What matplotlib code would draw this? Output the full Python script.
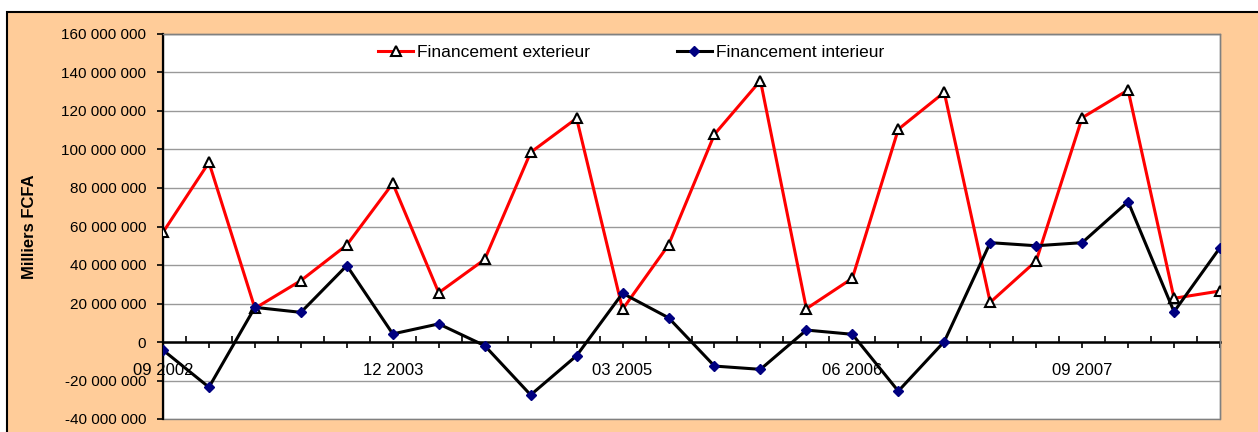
import numpy as np
import matplotlib.pyplot as plt
from matplotlib.patches import Rectangle
from matplotlib.ticker import FuncFormatter, FixedLocator

plt.rcParams['font.family'] = ['Liberation Sans', 'DejaVu Sans']

# quarterly data, 09 2002 -> 06 2008 (milliers FCFA)
quarters = ["09 2002", "12 2002", "03 2003", "06 2003", "09 2003", "12 2003",
            "03 2004", "06 2004", "09 2004", "12 2004", "03 2005", "06 2005",
            "09 2005", "12 2005", "03 2006", "06 2006", "09 2006", "12 2006",
            "03 2007", "06 2007", "09 2007", "12 2007", "03 2008", "06 2008"]
fin_exterieur = np.array([57.0, 93.3, 17.5, 31.9, 50.4, 82.4, 25.6, 42.9, 98.5, 116.2,
                          17.0, 50.4, 107.9, 135.8, 17.3, 33.1, 110.5, 129.7, 20.6, 42.1,
                          116.5, 130.9, 22.7, 26.5]) * 1e6
fin_interieur = np.array([-4.2, -23.5, 18.0, 15.4, 39.7, 4.2, 9.4, -1.9, -27.5, -7.1,
                          25.3, 12.6, -12.5, -14.2, 6.2, 4.0, -25.5, 0.2, 51.6, 50.0,
                          51.6, 72.9, 15.7, 49.0]) * 1e6
shown_labels = ["09 2002", "12 2003", "03 2005", "06 2006", "09 2007"]

W, H = 1258, 432
fig = plt.figure(figsize=(W / 100, H / 100), dpi=100)
fig.patch.set_facecolor('white')

# orange chart area with black frame
fig.add_artist(Rectangle((7 / W, -0.05), 1.1, (H - 12) / H + 0.05, transform=fig.transFigure,
                         facecolor='#FFCC99', edgecolor='black', linewidth=1.5, zorder=0))

ax = fig.add_axes([163 / W, (H - 419) / H, 1057 / W, 385 / H])
ax.set_facecolor('white')
ax.patch.set_edgecolor('#808080')
ax.patch.set_linewidth(1.0)

x = np.arange(len(quarters))
ax.plot(x, fin_exterieur, color='red', lw=2.2, marker='^', ms=7.5,
        mfc='white', mec='black', mew=1.5, label='Financement exterieur', zorder=3)
ax.plot(x, fin_interieur, color='black', lw=2.2, marker='D', ms=5.5,
        mfc='#000080', mec='#000080', label='Financement interieur', zorder=4)

ax.set_xlim(0, len(quarters) - 1)
ax.set_ylim(-40e6, 160e6)
ax.set_yticks(np.arange(-40e6, 160e6 + 1, 20e6))
ax.yaxis.set_major_formatter(FuncFormatter(lambda v, p: f"{int(round(v)):,}".replace(",", " ")))
ax.grid(axis='y', color='#999999', lw=1.0, zorder=0)
ax.set_axisbelow(True)

for s in ['top', 'right']:
    ax.spines[s].set_color('#808080')
    ax.spines[s].set_linewidth(1.0)
ax.spines['left'].set_color('black')
ax.spines['left'].set_linewidth(1.6)
ax.spines['bottom'].set_position(('data', 0))
ax.spines['bottom'].set_color('black')
ax.spines['bottom'].set_linewidth(1.8)
ax.spines['bottom'].set_zorder(2)

ax.xaxis.set_major_locator(FixedLocator(x))
ax.set_xticklabels([q if q in shown_labels else "" for q in quarters])
ax.xaxis.set_minor_locator(FixedLocator(x[:-1] + 0.5))
ax.tick_params(axis='x', which='major', direction='out', length=4, width=1.2, pad=11,
               labelsize=12, colors='black')
ax.tick_params(axis='x', which='minor', direction='in', length=4, width=1.2)
ax.tick_params(axis='y', direction='out', length=4, width=1.2, pad=8, labelsize=11)

ax.set_ylabel('Milliers FCFA', fontsize=12, fontweight='bold')
ax.yaxis.set_label_coords(-0.119, 0.5)

ax.legend(loc='center', bbox_to_anchor=(0.443, 0.953), ncol=2, frameon=False,
          fontsize=12.5, handlelength=2.0, handletextpad=0.25, columnspacing=5.0)

fig.savefig('out.png', dpi=100)
